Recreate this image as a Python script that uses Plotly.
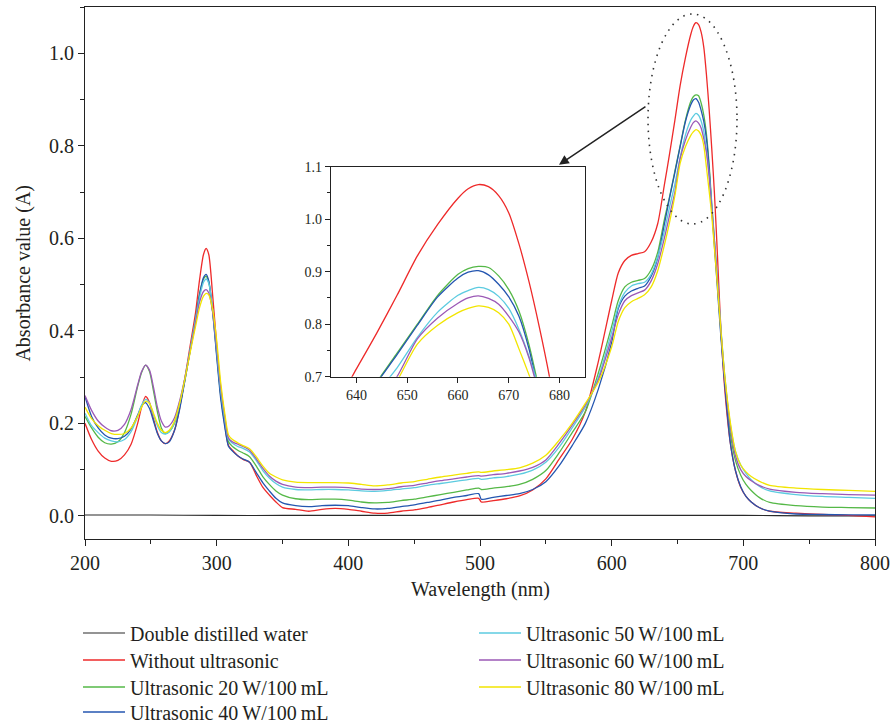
import plotly.graph_objects as go

# Wavelength grid (nm)
wl = [200, 205, 210, 215, 220, 225, 230, 235, 240,
      243, 246, 249, 252, 255, 258, 261, 264,
      268, 272, 276, 280, 284, 287, 290, 292, 294, 297,
      300, 303, 306, 309, 312, 316, 320, 325, 330, 335, 340, 345, 350,
      360, 370, 380, 390, 400, 410, 420, 430, 440, 450, 460, 470, 480, 490, 499,
      501, 510, 520, 530, 540, 550, 560, 570, 580, 590, 600,
      605, 610, 615, 620, 625, 630, 635, 640, 644, 648, 652, 656, 660,
      662, 664, 666, 668, 670, 672, 674, 676, 678, 680,
      683, 686, 690, 694, 698, 702, 706, 712, 720, 740, 760, 780, 800]

red = [0.200, 0.165, 0.140, 0.125, 0.118, 0.120, 0.132, 0.155, 0.200,
       0.235, 0.258, 0.245, 0.210, 0.180, 0.162, 0.156, 0.162,
       0.185, 0.235, 0.300, 0.370, 0.440, 0.510, 0.565, 0.578, 0.565, 0.475,
       0.370, 0.265, 0.200, 0.152, 0.142, 0.130, 0.122, 0.116, 0.088, 0.062, 0.045, 0.030, 0.018,
       0.014, 0.010, 0.014, 0.016, 0.014, 0.010, 0.006, 0.006, 0.010, 0.013, 0.018, 0.024, 0.030, 0.035, 0.038,
       0.030, 0.033, 0.037, 0.043, 0.056, 0.080, 0.122, 0.165, 0.225, 0.335, 0.465,
       0.525, 0.552, 0.563, 0.567, 0.571, 0.592, 0.632, 0.715, 0.783, 0.855, 0.930, 0.990, 1.040,
       1.058, 1.066, 1.062, 1.045, 1.012, 0.953, 0.880, 0.795, 0.700, 0.585,
       0.400, 0.270, 0.160, 0.098, 0.062, 0.042, 0.030, 0.018, 0.010, 0.006, 0.003, 0.001, -0.002]

green = [0.215, 0.190, 0.170, 0.158, 0.155, 0.160, 0.180, 0.220, 0.280,
         0.310, 0.326, 0.312, 0.270, 0.225, 0.190, 0.178, 0.182,
         0.200, 0.240, 0.295, 0.360, 0.425, 0.480, 0.512, 0.518, 0.505, 0.440,
         0.350, 0.262, 0.205, 0.160, 0.150, 0.142, 0.136, 0.128, 0.108, 0.085, 0.068, 0.054, 0.045,
         0.037, 0.035, 0.036, 0.036, 0.034, 0.030, 0.028, 0.029, 0.033, 0.036, 0.041, 0.046, 0.051, 0.056, 0.060,
         0.057, 0.060, 0.063, 0.068, 0.079, 0.098, 0.136, 0.180, 0.225, 0.310, 0.410,
         0.465, 0.495, 0.505, 0.509, 0.513, 0.532, 0.570, 0.640, 0.690, 0.745, 0.800, 0.855, 0.895,
         0.906, 0.910, 0.908, 0.892, 0.866, 0.825, 0.760, 0.675, 0.595, 0.515,
         0.395, 0.290, 0.180, 0.120, 0.088, 0.068, 0.055, 0.040, 0.029, 0.022, 0.019, 0.018, 0.017]

blue = [0.258, 0.215, 0.190, 0.175, 0.168, 0.167, 0.172, 0.188, 0.218,
        0.238, 0.245, 0.232, 0.205, 0.178, 0.162, 0.156, 0.160,
        0.185, 0.232, 0.295, 0.360, 0.425, 0.478, 0.515, 0.522, 0.508, 0.440,
        0.345, 0.255, 0.195, 0.150, 0.140, 0.130, 0.123, 0.116, 0.094, 0.072, 0.054, 0.038, 0.028,
        0.022, 0.020, 0.022, 0.023, 0.022, 0.018, 0.015, 0.016, 0.020, 0.024, 0.029, 0.034, 0.040, 0.044, 0.048,
        0.036, 0.040, 0.044, 0.048, 0.057, 0.074, 0.108, 0.152, 0.200, 0.275, 0.375,
        0.448, 0.475, 0.486, 0.492, 0.497, 0.518, 0.558, 0.630, 0.688, 0.742, 0.798, 0.852, 0.888,
        0.899, 0.902, 0.894, 0.876, 0.852, 0.815, 0.752, 0.665, 0.585, 0.505,
        0.385, 0.280, 0.160, 0.098, 0.063, 0.042, 0.030, 0.018, 0.010, 0.004, 0.003, 0.002, 0.002]

cyan = [0.222, 0.195, 0.180, 0.168, 0.162, 0.160, 0.165, 0.182, 0.215,
        0.240, 0.252, 0.244, 0.218, 0.195, 0.180, 0.177, 0.182,
        0.202, 0.245, 0.300, 0.362, 0.425, 0.472, 0.505, 0.512, 0.503, 0.445,
        0.360, 0.272, 0.212, 0.165, 0.157, 0.150, 0.146, 0.138, 0.120, 0.098, 0.082, 0.070, 0.062,
        0.057, 0.056, 0.057, 0.057, 0.056, 0.054, 0.053, 0.055, 0.058, 0.061, 0.066, 0.070, 0.074, 0.078, 0.081,
        0.079, 0.082, 0.085, 0.090, 0.099, 0.116, 0.148, 0.190, 0.235, 0.300, 0.398,
        0.452, 0.483, 0.497, 0.502, 0.505, 0.522, 0.560, 0.615, 0.668, 0.717, 0.775, 0.823, 0.855,
        0.864, 0.870, 0.866, 0.853, 0.830, 0.790, 0.738, 0.675, 0.600, 0.525,
        0.405, 0.300, 0.200, 0.140, 0.110, 0.092, 0.078, 0.064, 0.054, 0.046, 0.042, 0.040, 0.038]

purple = [0.260, 0.228, 0.205, 0.192, 0.184, 0.185, 0.198, 0.230, 0.283,
          0.312, 0.326, 0.315, 0.278, 0.235, 0.205, 0.192, 0.195,
          0.212, 0.250, 0.300, 0.358, 0.418, 0.462, 0.485, 0.489, 0.482, 0.440,
          0.365, 0.280, 0.218, 0.168, 0.160, 0.155, 0.150, 0.142, 0.124, 0.103, 0.086, 0.075, 0.068,
          0.062, 0.061, 0.062, 0.062, 0.061, 0.058, 0.057, 0.059, 0.063, 0.066, 0.071, 0.076, 0.080, 0.084, 0.087,
          0.086, 0.089, 0.092, 0.097, 0.105, 0.121, 0.156, 0.196, 0.240, 0.295, 0.385,
          0.435, 0.465, 0.476, 0.482, 0.488, 0.508, 0.545, 0.600, 0.650, 0.700, 0.772, 0.812, 0.840,
          0.850, 0.854, 0.849, 0.838, 0.815, 0.785, 0.735, 0.665, 0.595, 0.520,
          0.400, 0.295, 0.195, 0.130, 0.100, 0.085, 0.076, 0.066, 0.058, 0.051, 0.048, 0.046, 0.045]

yellow = [0.235, 0.210, 0.195, 0.185, 0.178, 0.176, 0.178, 0.190, 0.215,
          0.235, 0.248, 0.243, 0.222, 0.200, 0.185, 0.180, 0.185,
          0.205, 0.245, 0.298, 0.355, 0.410, 0.450, 0.475, 0.481, 0.478, 0.445,
          0.380, 0.290, 0.225, 0.175, 0.165, 0.158, 0.152, 0.145, 0.128, 0.108, 0.092, 0.084, 0.078,
          0.073, 0.072, 0.072, 0.072, 0.071, 0.068, 0.065, 0.067, 0.071, 0.074, 0.079, 0.084, 0.088, 0.092, 0.095,
          0.094, 0.097, 0.100, 0.104, 0.114, 0.131, 0.163, 0.200, 0.243, 0.290, 0.365,
          0.420, 0.450, 0.463, 0.470, 0.478, 0.495, 0.530, 0.585, 0.635, 0.692, 0.762, 0.798, 0.822,
          0.830, 0.835, 0.832, 0.822, 0.800, 0.753, 0.703, 0.650, 0.580, 0.510,
          0.400, 0.300, 0.205, 0.140, 0.110, 0.095, 0.085, 0.075, 0.066, 0.060, 0.057, 0.055, 0.053]

wl_water = [200, 250, 300, 350, 400, 450, 500, 550, 600, 650, 700, 750, 800]
water = [0.002, 0.002, 0.001, 0.001, 0.001, 0.001, 0.001, 0.001, 0.001, 0.001, 0.001, 0.000, 0.000]

names = ["Double distilled water", "Without ultrasonic",
         "Ultrasonic 20\u2009W/100\u2009mL", "Ultrasonic 40\u2009W/100\u2009mL",
         "Ultrasonic 50\u2009W/100\u2009mL", "Ultrasonic 60\u2009W/100\u2009mL",
         "Ultrasonic 80\u2009W/100\u2009mL"]
colors = ["#2a2a2a", "#ee2a2a", "#55b847", "#2456b0", "#5ccbe0", "#9b59b6", "#f2e500"]

FONT = "Liberation Serif, DejaVu Serif, serif"
TXT = "#231f20"

fig = go.Figure()

series = [(wl_water, water), (wl, red), (wl, green), (wl, blue),
          (wl, cyan), (wl, purple), (wl, yellow)]

legend_ids = ["legend", "legend2", "legend3", "legend4", "legend5", "legend6", "legend7"]

for i, ((xs, ys), nm, col) in enumerate(zip(series, names, colors)):
    fig.add_trace(go.Scatter(x=xs, y=ys, mode="lines", name=nm,
                             line=dict(color=col, width=1.3 if i else 1.1,
                                       shape="spline", smoothing=0.7),
                             legend=legend_ids[i]))

# inset traces (same data, zoomed)
for (xs, ys), nm, col in list(zip(series, names, colors))[1:]:
    fig.add_trace(go.Scatter(x=xs, y=ys, mode="lines", name=nm, showlegend=False,
                             line=dict(color=col, width=1.3, shape="spline", smoothing=0.7),
                             xaxis="x2", yaxis="y2"))

axis_common = dict(showline=True, linecolor="#222", linewidth=1.2, mirror=True,
                   showgrid=False, zeroline=False, ticks="outside",
                   tickcolor="#222", tickfont=dict(family=FONT, size=20, color=TXT))

# legend layout: column 1 has 4 rows, column 2 has 3 rows
leg_x = [78, 78, 78, 78, 474, 474, 474]
leg_y = [633, 660, 687, 712, 633, 660, 687]
legends = {}
for lid, lx, ly in zip(legend_ids, leg_x, leg_y):
    legends[lid] = dict(xref="container", yref="container", x=lx / 892, y=1 - ly / 724,
                        xanchor="left", yanchor="middle", bgcolor="rgba(0,0,0,0)",
                        font=dict(family=FONT, size=20, color=TXT), itemwidth=42)

fig.update_layout(
    width=892, height=724,
    margin=dict(l=85, r=17, t=7, b=185, autoexpand=False),
    paper_bgcolor="white", plot_bgcolor="white",
    font=dict(family=FONT, size=20, color=TXT),
    xaxis=dict(range=[200, 800], tickvals=[200, 300, 400, 500, 600, 700, 800], ticklen=6,
               minor=dict(dtick=50, tick0=200, ticks="outside", ticklen=4, tickcolor="#222"),
               **axis_common),
    yaxis=dict(range=[-0.05, 1.1], tick0=0, dtick=0.2, tickformat=".1f", ticklen=6,
               minor=dict(dtick=0.1, tick0=0, ticks="outside", ticklen=4, tickcolor="#222"),
               **axis_common),
    xaxis2=dict(domain=[0.3114, 0.6329], anchor="y2", range=[635, 685],
                tickvals=[640, 650, 660, 670, 680], ticklen=5,
                showline=True, linecolor="#222", linewidth=1.2, mirror=True,
                showgrid=False, zeroline=False, ticks="outside", tickcolor="#222",
                tickfont=dict(family=FONT, size=14, color=TXT)),
    yaxis2=dict(domain=[0.3051, 0.6998], anchor="x2", range=[0.7, 1.1],
                tick0=0.7, dtick=0.1, tickformat=".1f", ticklen=5,
                minor=dict(dtick=0.05, tick0=0.7, ticks="outside", ticklen=3, tickcolor="#222"),
                showline=True, linecolor="#222", linewidth=1.2, mirror=True,
                showgrid=False, zeroline=False, ticks="outside", tickcolor="#222",
                tickfont=dict(family=FONT, size=14, color=TXT)),
    shapes=[dict(type="circle", xref="x", yref="y", x0=627.6, x1=695.2, y0=0.631, y1=1.085,
                 line=dict(color="#333", width=1.6, dash="1.5px,5.5px"))],
    annotations=[
        dict(x=560.0, y=0.759, ax=626.8, ay=0.887, xref="x", yref="y",
             axref="x", ayref="y", text="", showarrow=True, arrowhead=2,
             arrowsize=1.3, arrowwidth=1.5, arrowcolor="#222"),
        dict(text="Absorbance value (A)", xref="paper", yref="paper",
             x=-0.079, y=0.5, xanchor="center", yanchor="middle", textangle=-90,
             showarrow=False, font=dict(family=FONT, size=20, color=TXT)),
        dict(text="Wavelength (nm)", xref="paper", yref="paper",
             x=0.5, y=-0.095, xanchor="center", yanchor="middle",
             showarrow=False, font=dict(family=FONT, size=20, color=TXT)),
    ],
    **legends,
)

fig.write_html("out.html")
